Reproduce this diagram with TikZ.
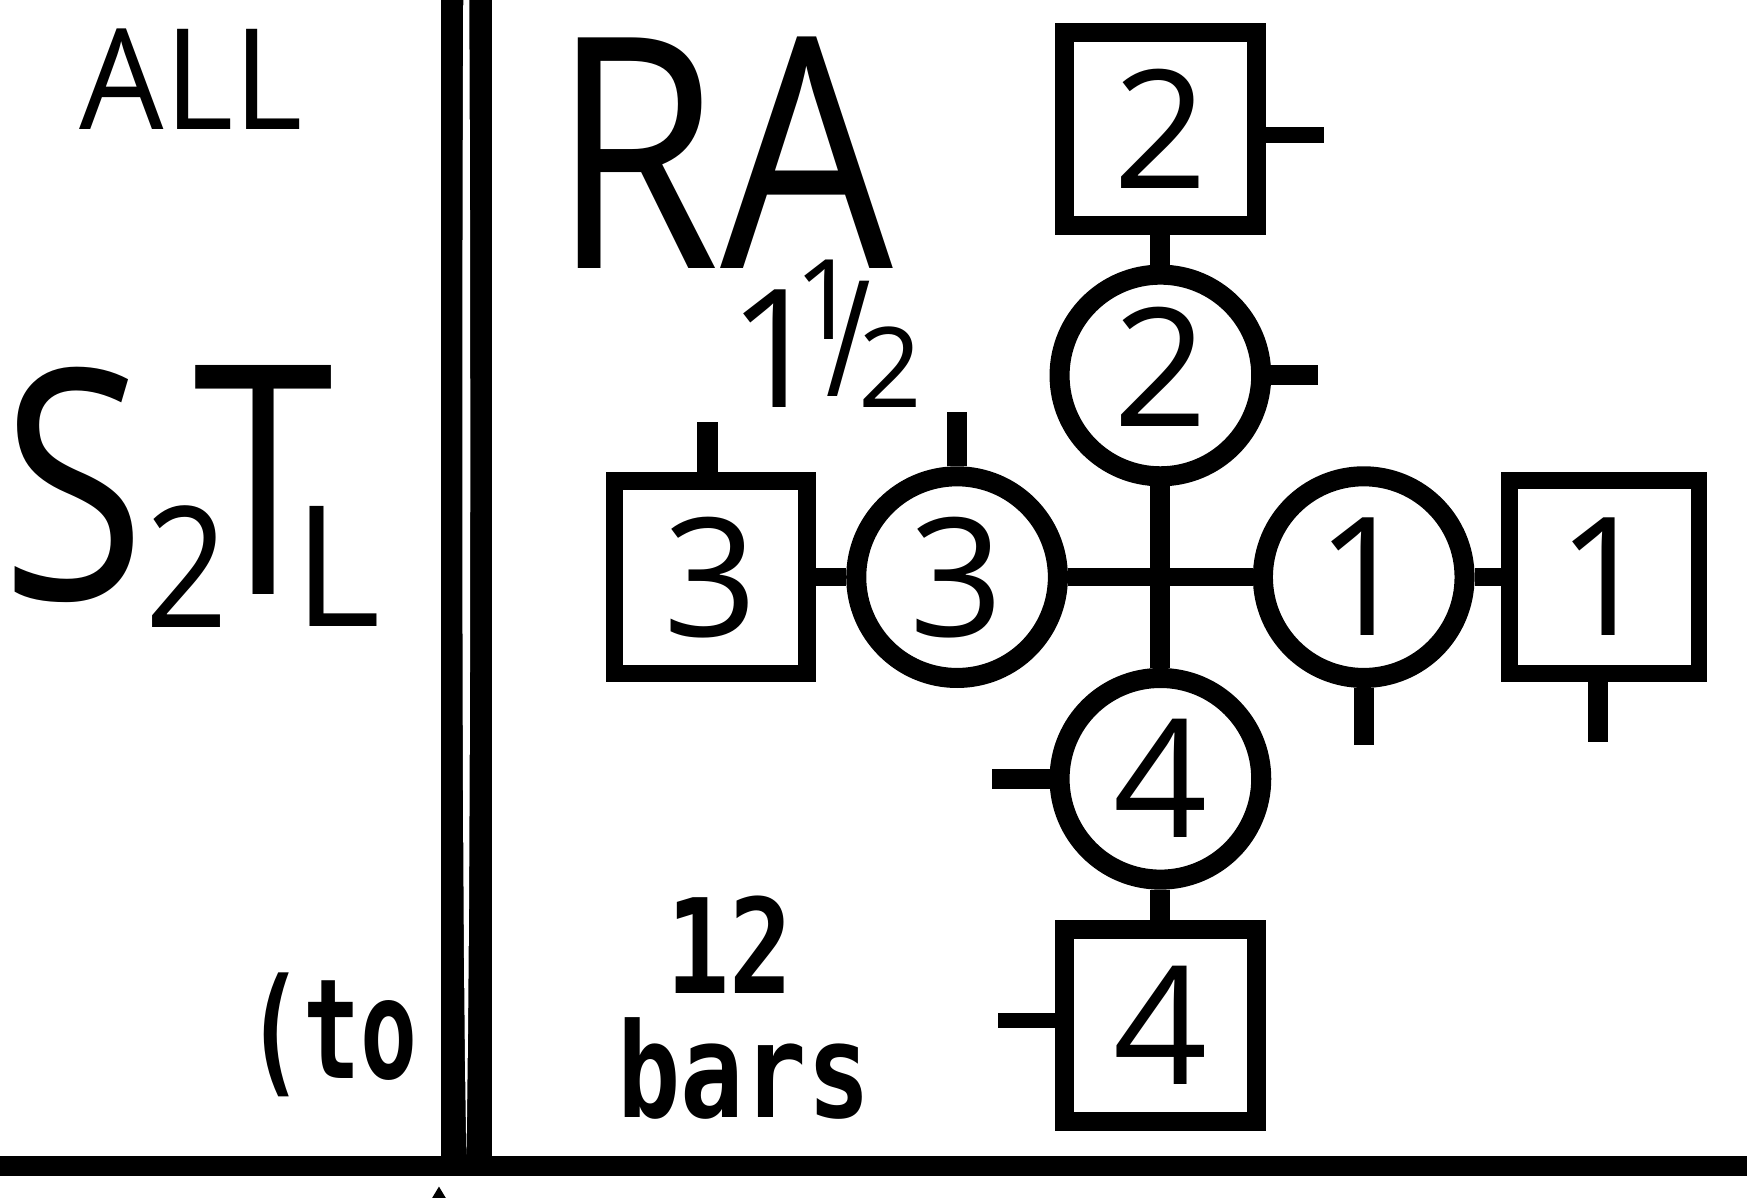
\documentclass[tikz,border=0pt]{standalone}
\usepackage{fontspec}
\setmainfont{Open Sans}
\newfontfamily\monof{DejaVu Sans Mono}
\newcommand\fsz[1]{\fontsize{#1}{#1}\selectfont}
\begin{document}
\begin{tikzpicture}[x=1pt,y=-1pt,
  txt/.style={inner sep=0pt, outer sep=0pt, anchor=base},
  sqbox/.style={draw, rectangle, line width=17pt, minimum width=173pt, minimum height=173pt, inner sep=0pt, font=\fsz{148}},
  cbox/.style={draw, circle, line width=18pt, minimum size=181pt, inner sep=0pt, font=\fsz{148}},
  vlink/.style={line width=18pt},
  hlink/.style={line width=16pt},
  stub/.style={line width=14pt},
  hand/.style={txt, font=\monof\bfseries\fsz{118}, xscale=0.8}]
\useasboundingbox (0,0) rectangle (1568,1075);
% staff: bottom line and double bar
\fill (0,1037.5) rectangle (1568,1055.5);
\fill (396,0) rectangle (441.5,1040);
\fill[white] (415.8,0) .. controls (414,400) and (415,850) .. (418.6,1036)
  .. controls (422,850) and (423,400) .. (421.2,0) -- cycle;
\fill (394,1065) -- (385,1080) -- (403,1080) -- cycle;
% left texts
\node[txt, font=\fsz{126}, xscale=0.95] (all) at (171.5,116) {ALL};
\node[txt, font=\fsz{288}, xscale=0.82] (sS) at (66.5,538) {S};
\node[txt, font=\fsz{151}, xscale=0.86] (s2) at (168,563) {2};
\node[txt, font=\fsz{288}, xscale=0.79] (sT) at (237,534) {T};
\node[txt, font=\fsz{151}] (sL) at (302.5,562) {L};
\node[hand, font=\monof\bfseries\fsz{125}, xscale=0.85] (to) at (298,968) {(to};
% right texts
\node[txt, font=\fsz{290}, xscale=0.845] (RA) at (648.4,241) {RA};
\node[txt, font=\fsz{148}] (one) at (696.5,366) {1};
\node[txt, font=\fsz{100}] (num) at (741.5,305) {1};
\node[txt, font=\fsz{145}, xscale=0.75] (sl) at (762,356) {/};
\node[txt, font=\fsz{100}] (den) at (799,366) {2};
\node[hand] (twelve) at (655,892) {12};
\node[hand] (bars) at (667.5,1003) {bars};
% figure
\node[sqbox] (sq2) at (1041.5,116) {2};
\node[cbox, text height=106pt, text depth=14pt] (c2) at (1041.5,337) {2};
\node[sqbox, line width=16pt] (sq3) at (638,518) {3};
\node[cbox] (c3) at (859,518) {3};
\node[cbox] (c1) at (1224,518) {1};
\node[sqbox, line width=15pt, minimum width=170pt] (sq1) at (1440,518) {1};
\node[cbox] (c4) at (1041.5,699) {4};
\node[sqbox] (sq4) at (1041.5,920.5) {4};
\draw[vlink] (sq2.south) -- (c2.north);
\draw[vlink] (c2.south) -- (c4.north);
\draw[vlink] (c4.south) -- (sq4.north);
\draw[hlink] (sq3.east) -- (c3.west);
\draw[hlink] (c3.east) -- (c1.west);
\draw[hlink] (c1.east) -- (sq1.west);
% stubs
\coordinate (sq2t) at (1188,121);
\coordinate (c2t) at (1183,337);
\coordinate (sq3t) at (635,379);
\coordinate (c3t) at (859,370);
\coordinate (c1t) at (1224,669);
\coordinate (sq1t) at (1434,666);
\coordinate (c4t) at (890,699);
\coordinate (sq4t) at (896,916);
\draw[stub] (sq2.east |- sq2t) -- (sq2t);
\draw[vlink] (c2.east) -- (c2t);
\draw[vlink] (sq3.north -| sq3t) -- (sq3t);
\draw[vlink] (c3.north) -- (c3t);
\draw[vlink] (c1.south) -- (c1t);
\draw[vlink] (sq1.south -| sq1t) -- (sq1t);
\draw[vlink] (c4.west) -- (c4t);
\draw[stub] (sq4.west |- sq4t) -- (sq4t);
\end{tikzpicture}
\end{document}
